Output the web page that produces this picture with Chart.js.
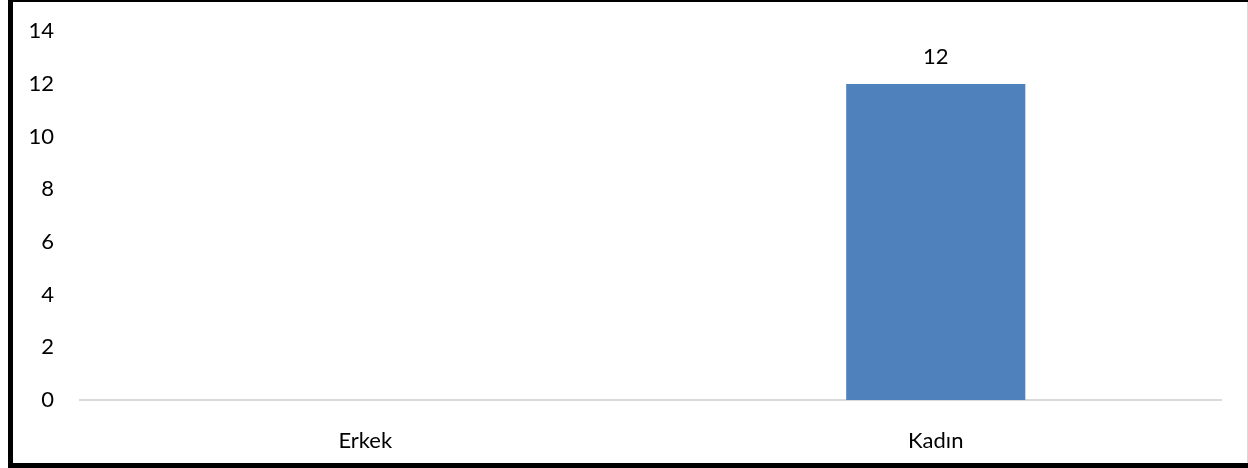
<!DOCTYPE html>
<html><head><meta charset="utf-8">
<script src="https://cdn.jsdelivr.net/npm/chart.js@4"></script>
<style>html,body{margin:0;padding:0;background:#fff}#wrap{position:relative;width:1248px;height:468px}</style>
</head><body><div id="wrap"><canvas id="c" width="1248" height="468"></canvas></div>
<script>
const categories = ["Erkek", "Kadın"];
const values = [0, 12];
const yTicks = [0, 2, 4, 6, 8, 10, 12, 14];

const FONT = "Lato, 'Open Sans', sans-serif";
const FS = 22;

const frame = {
  id: 'frame',
  beforeDraw(chart) {
    const ctx = chart.ctx;
    ctx.save();
    ctx.fillStyle = '#fff';
    ctx.fillRect(0, 0, chart.width, chart.height);
    ctx.fillStyle = '#000';
    ctx.fillRect(8, 0, 5, 468);      // left
    ctx.fillRect(8, 0, 1240, 2);     // top
    ctx.fillRect(8, 463, 1240, 5);   // bottom
    ctx.fillStyle = '#d9d9d9';
    ctx.fillRect(1247, 2, 1, 461);   // right
    ctx.restore();
  }
};

const labels = {
  id: 'barLabels',
  afterDatasetsDraw(chart) {
    const ctx = chart.ctx;
    const meta = chart.getDatasetMeta(0);
    ctx.save();
    ctx.font = FS + "px " + FONT;
    ctx.fillStyle = '#000';
    ctx.textAlign = 'center';
    ctx.textBaseline = 'middle';
    meta.data.forEach((bar, i) => {
      const v = values[i];
      if (!v) return;
      ctx.fillText(String(v), bar.x, bar.y - 27);
    });
    ctx.restore();
  }
};

new Chart(document.getElementById('c'), {
  type: 'bar',
  data: {
    labels: categories,
    datasets: [{
      data: values,
      backgroundColor: '#4f81bd',
      categoryPercentage: 1,
      barPercentage: 0.314
    }]
  },
  options: {
    responsive: false,
    animation: false,
    layout: { padding: { top: 16, right: 27, left: 0, bottom: 0 } },
    plugins: { legend: { display: false }, tooltip: { enabled: false } },
    scales: {
      x: {
        grid: { display: false },
        border: { display: true, color: '#d9d9d9', width: 2 },
        ticks: { color: '#000', font: { size: FS, family: FONT }, padding: 20 },
        afterFit(s) { s.height = 68; }
      },
      y: {
        min: 0, max: 14,
        afterBuildTicks(s) { s.ticks = yTicks.map(v => ({ value: v })); },
        grid: { display: false },
        border: { display: false },
        ticks: { color: '#000', font: { size: FS, family: FONT }, padding: 18 },
        afterFit(s) { s.width = 80; }
      }
    }
  },
  plugins: [frame, labels]
});
</script></body></html>
